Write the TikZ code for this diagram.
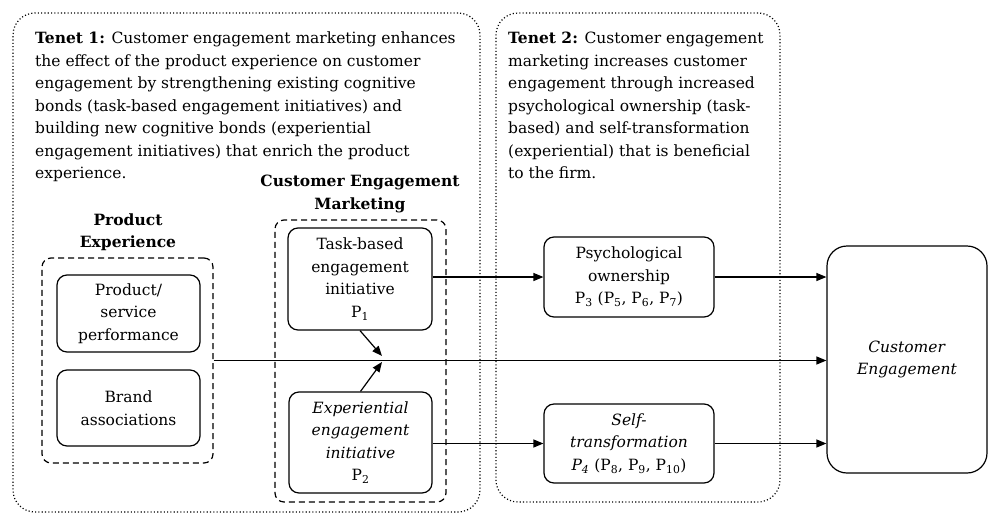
\documentclass[tikz,border=0pt]{standalone}
\usepackage{fontspec}
\setmainfont{DejaVu Serif}
\usetikzlibrary{arrows.meta}
\tikzset{
  base/.style={font=\fontsize{15.5}{22.5}\selectfont, align=center, inner sep=0pt},
  dotbox/.style={draw, line width=1.2pt, dash pattern=on 1.1pt off 2.2pt, rounded corners=22pt, inner sep=0pt},
  dashbox/.style={draw, line width=1.2pt, dash pattern=on 6pt off 4pt, rounded corners=9pt, inner sep=0pt},
  solidbox/.style={base, draw, line width=1.2pt, rounded corners=10pt},
  txt/.style={base},
  conn/.style={line width=1.2pt, -{Triangle[length=10pt,width=8pt]}}
}
\begin{document}
\begin{tikzpicture}[x=1pt,y=-1pt]
\useasboundingbox (0,0) rectangle (988,520);
% outer tenet boxes
\node[dotbox, minimum width=467pt, minimum height=499pt] (t1box) at (246.5,262.5) {};
\node[dotbox, minimum width=284pt, minimum height=489pt] (t2box) at (638,257.5) {};
% tenet texts
\node[txt, align=left, anchor=north west] (t1) at (35,32) {\textbf{Tenet 1:} Customer engagement marketing enhances\\ the effect of the product experience on customer\\ engagement by strengthening existing cognitive\\ bonds (task-based engagement initiatives) and\\ building new cognitive bonds (experiential\\ engagement initiatives) that enrich the product\\ experience.};
\node[txt, align=left, anchor=north west] (t2) at (508,32) {\textbf{Tenet 2:} Customer engagement\\ marketing increases customer\\ engagement through increased\\ psychological ownership (task-\\ based) and self-transformation\\ (experiential) that is beneficial\\ to the firm.};
% group headings
\node[txt] (cemh) at (360,194) {\textbf{Customer Engagement}\\ \textbf{Marketing}};
\node[txt] (peh) at (128,232) {\textbf{Product}\\ \textbf{Experience}};
% dashed groups
\node[dashbox, minimum width=171pt, minimum height=205pt] (pe) at (127.5,360.5) {};
\node[dashbox, minimum width=171pt, minimum height=282pt] (cem) at (360.5,361) {};
% inner boxes
\node[solidbox, minimum width=143pt, minimum height=77pt] (psp) at (128.5,313.5) {Product/\\ service\\ performance};
\node[solidbox, minimum width=143pt, minimum height=76pt] (brand) at (128.5,408) {Brand\\ associations};
\node[solidbox, minimum width=144pt, minimum height=102pt] (task) at (360,279) {Task-based\\ engagement\\ initiative\\ P\textsubscript{1}};
\node[solidbox, minimum width=143pt, minimum height=101pt] (exper) at (360.5,442.5) {\textit{Experiential}\\ \textit{engagement}\\ \textit{initiative}\\ P\textsubscript{2}};
\node[solidbox, minimum width=170pt, minimum height=80pt] (psych) at (629,277) {Psychological\\ ownership\\ P\textsubscript{3} (P\textsubscript{5}, P\textsubscript{6}, P\textsubscript{7})};
\node[solidbox, minimum width=170pt, minimum height=79pt] (self) at (629,443.5) {\textit{Self-}\\ \textit{transformation}\\ \textit{P\textsubscript{4}} (P\textsubscript{8}, P\textsubscript{9}, P\textsubscript{10})};
\node[solidbox, rounded corners=20pt, minimum width=160pt, minimum height=227pt] (ce) at (907,359.5) {\textit{Customer}\\ \textit{Engagement}};
% junction points on main line
\coordinate (j1) at (382,356);
\coordinate (j2) at (382,362);
% connectors
\draw[conn] (pe.east) -- (pe.east -| ce.west);
\draw[conn] (task.south) -- (j1);
\draw[conn] (exper.north) -- (j2);
\draw[conn] (task.east |- psych.west) -- (psych.west);
\draw[conn] (psych.east) -- (psych.east -| ce.west);
\draw[conn] (exper.east |- self.west) -- (self.west);
\draw[conn] (self.east) -- (self.east -| ce.west);
\end{tikzpicture}
\end{document}
